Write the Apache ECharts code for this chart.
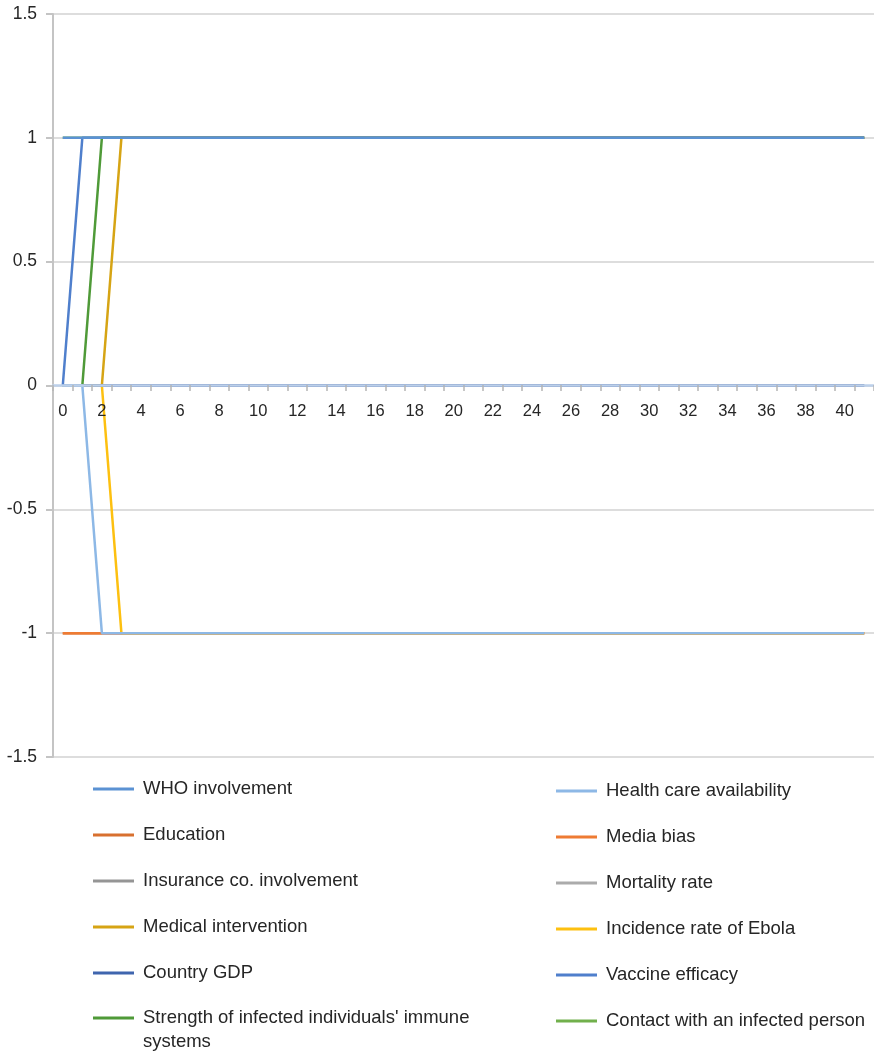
<!DOCTYPE html>
<html>
<head>
<meta charset="utf-8">
<script src="https://cdn.jsdelivr.net/npm/echarts@6/dist/echarts.min.js"></script>
<style>
  html, body { margin: 0; padding: 0; background: #ffffff; }
  #chart { width: 874px; height: 1056px; }
</style>
</head>
<body>
<div id="chart"></div>
<script>
// Time steps 0..41 (labels shown on every other step)
const categories = [
  '0','1','2','3','4','5','6','7','8','9',
  '10','11','12','13','14','15','16','17','18','19',
  '20','21','22','23','24','25','26','27','28','29',
  '30','31','32','33','34','35','36','37','38','39',
  '40','41'
];

const yTicks = [-1.5, -1, -0.5, 0, 0.5, 1, 1.5];

// Node activation values per time step
const whoInvolvement = [
  1,1,1,1,1,1,1,1,1,1, 1,1,1,1,1,1,1,1,1,1,
  1,1,1,1,1,1,1,1,1,1, 1,1,1,1,1,1,1,1,1,1, 1,1
];
const healthCareAvailability = [
  0,0,-1,-1,-1,-1,-1,-1,-1,-1, -1,-1,-1,-1,-1,-1,-1,-1,-1,-1,
  -1,-1,-1,-1,-1,-1,-1,-1,-1,-1, -1,-1,-1,-1,-1,-1,-1,-1,-1,-1, -1,-1
];
const education = [
  -1,-1,-1,-1,-1,-1,-1,-1,-1,-1, -1,-1,-1,-1,-1,-1,-1,-1,-1,-1,
  -1,-1,-1,-1,-1,-1,-1,-1,-1,-1, -1,-1,-1,-1,-1,-1,-1,-1,-1,-1, -1,-1
];
const mediaBias = [
  -1,-1,-1,-1,-1,-1,-1,-1,-1,-1, -1,-1,-1,-1,-1,-1,-1,-1,-1,-1,
  -1,-1,-1,-1,-1,-1,-1,-1,-1,-1, -1,-1,-1,-1,-1,-1,-1,-1,-1,-1, -1,-1
];
const insuranceInvolvement = [
  0,0,0,0,0,0,0,0,0,0, 0,0,0,0,0,0,0,0,0,0,
  0,0,0,0,0,0,0,0,0,0, 0,0,0,0,0,0,0,0,0,0, 0,0
];
const mortalityRate = [
  0,0,0,0,0,0,0,0,0,0, 0,0,0,0,0,0,0,0,0,0,
  0,0,0,0,0,0,0,0,0,0, 0,0,0,0,0,0,0,0,0,0, 0,0
];
const medicalIntervention = [
  0,0,0,1,1,1,1,1,1,1, 1,1,1,1,1,1,1,1,1,1,
  1,1,1,1,1,1,1,1,1,1, 1,1,1,1,1,1,1,1,1,1, 1,1
];
const incidenceRate = [
  0,0,0,-1,-1,-1,-1,-1,-1,-1, -1,-1,-1,-1,-1,-1,-1,-1,-1,-1,
  -1,-1,-1,-1,-1,-1,-1,-1,-1,-1, -1,-1,-1,-1,-1,-1,-1,-1,-1,-1, -1,-1
];
const countryGdp = [
  0,0,0,0,0,0,0,0,0,0, 0,0,0,0,0,0,0,0,0,0,
  0,0,0,0,0,0,0,0,0,0, 0,0,0,0,0,0,0,0,0,0, 0,0
];
const vaccineEfficacy = [
  0,1,1,1,1,1,1,1,1,1, 1,1,1,1,1,1,1,1,1,1,
  1,1,1,1,1,1,1,1,1,1, 1,1,1,1,1,1,1,1,1,1, 1,1
];
const immuneStrength = [
  0,0,1,1,1,1,1,1,1,1, 1,1,1,1,1,1,1,1,1,1,
  1,1,1,1,1,1,1,1,1,1, 1,1,1,1,1,1,1,1,1,1, 1,1
];
const contactInfected = [
  1,1,1,1,1,1,1,1,1,1, 1,1,1,1,1,1,1,1,1,1,
  1,1,1,1,1,1,1,1,1,1, 1,1,1,1,1,1,1,1,1,1, 1,1
];

const names = {
  who: 'WHO involvement',
  health: 'Health care availability',
  edu: 'Education',
  media: 'Media bias',
  ins: 'Insurance co. involvement',
  mort: 'Mortality rate',
  med: 'Medical intervention',
  inc: 'Incidence rate of Ebola',
  gdp: 'Country GDP',
  vac: 'Vaccine efficacy',
  imm: "Strength of infected individuals' immune systems",
  contact: 'Contact with an infected person'
};

const colors = {
  who: '#5b92d3',
  health: '#8db8e6',
  edu: '#d8702f',
  media: '#ee7b33',
  ins: '#959595',
  mort: '#ababab',
  med: '#d6a414',
  inc: '#fdc010',
  gdp: '#3f65ae',
  vac: '#4f7fcc',
  imm: '#4f9a38',
  contact: '#71b04c'
};

// Drawing order (later entries sit on top)
const drawOrder = [
  ['ins', insuranceInvolvement],
  ['mort', mortalityRate],
  ['contact', contactInfected],
  ['edu', education],
  ['media', mediaBias],
  ['imm', immuneStrength],
  ['med', medicalIntervention],
  ['inc', incidenceRate],
  ['gdp', countryGdp],
  ['health', healthCareAvailability],
  ['vac', vaccineEfficacy],
  ['who', whoInvolvement]
];

const series = drawOrder.map(([key, values]) => ({
  name: names[key],
  type: 'line',
  data: values,
  showSymbol: false,
  symbol: 'none',
  lineStyle: { color: colors[key], width: 2.5 },
  itemStyle: { color: colors[key] },
  emphasis: { disabled: true }
}));

const legendFont = {
  fontFamily: 'Liberation Sans, Arial, sans-serif',
  fontSize: 18.5,
  color: '#262626',
  lineHeight: 46,
  padding: [0, 0, 0, 4]
};

function legendColumn(keys, left, top, extra) {
  return Object.assign({
    orient: 'vertical',
    left: left,
    top: top,
    width: 420,
    height: 400,
    padding: 0,
    itemWidth: 41,
    itemHeight: 3,
    itemGap: 0,
    icon: 'rect',
    selectedMode: false,
    textStyle: legendFont,
    data: keys.map(k => ({ name: names[k] }))
  }, extra || {});
}

const chart = echarts.init(document.getElementById('chart'), null, { renderer: 'canvas' });

chart.setOption({
  animation: false,
  backgroundColor: '#ffffff',
  grid: { left: 53, right: 0, top: 14, bottom: 299, containLabel: false },
  legend: [
    legendColumn(['who', 'edu', 'ins', 'med', 'gdp'], 93, 766),
    // wrapped entry: blank first line keeps the swatch beside the first text line
    legendColumn(['imm'], 93, 982, {
      textStyle: Object.assign({}, legendFont, { lineHeight: 24 }),
      formatter: function () {
        return "\nStrength of infected individuals' immune\nsystems";
      }
    }),
    legendColumn(['health', 'media', 'mort', 'inc', 'vac', 'contact'], 556, 768)
  ],
  xAxis: {
    type: 'category',
    data: categories,
    boundaryGap: true,
    position: 'bottom',
    offset: -372,
    z: 5,
    axisLine: { onZero: false, lineStyle: { color: '#bcd0ea', width: 2.5 } },
    axisTick: { show: true, interval: 0, length: 6, lineStyle: { color: '#b5b5b5', width: 1.5 } },
    axisLabel: {
      interval: 1,
      margin: 18,
      fontFamily: 'Liberation Sans, Arial, sans-serif',
      fontSize: 16.5,
      color: '#262626'
    },
    splitLine: { show: false }
  },
  yAxis: {
    type: 'value',
    min: yTicks[0],
    max: yTicks[yTicks.length - 1],
    interval: 0.5,
    axisLine: { show: true, lineStyle: { color: '#c4c4c4', width: 2 } },
    axisTick: { show: true, length: 7, lineStyle: { color: '#c4c4c4', width: 2 } },
    axisLabel: {
      margin: 16,
      fontFamily: 'Liberation Sans, Arial, sans-serif',
      fontSize: 17.5,
      color: '#262626'
    },
    splitLine: { show: true, lineStyle: { color: '#d2d2d2', width: 1.5 } }
  },
  series: series
});
</script>
</body>
</html>
